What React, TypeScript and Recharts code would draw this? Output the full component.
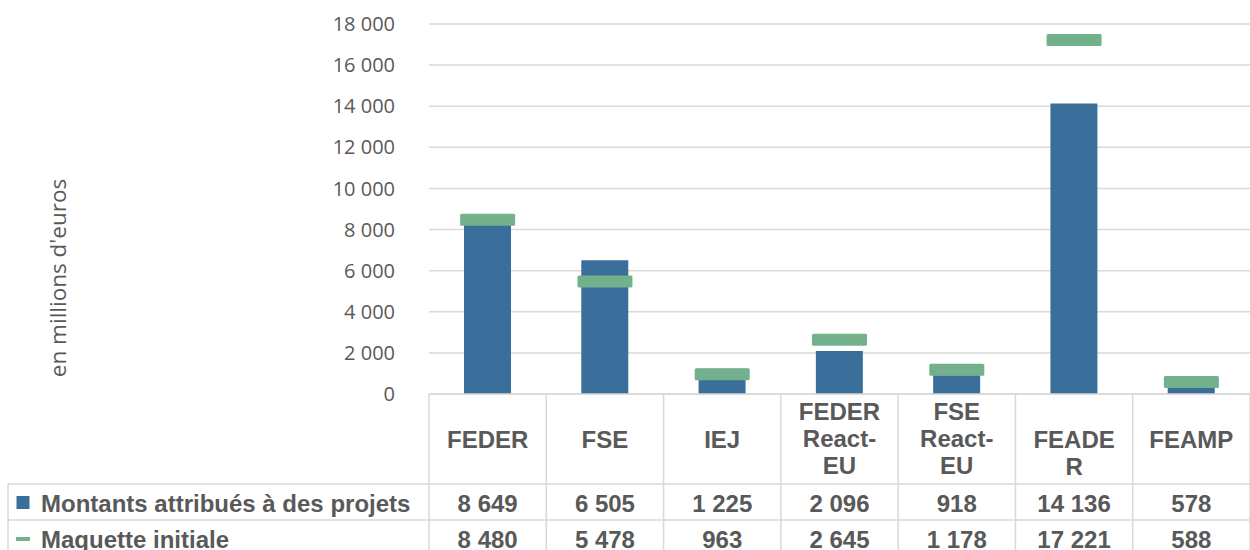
import { Bar, CartesianGrid, ComposedChart, Customized, Line, XAxis, YAxis } from 'recharts';

const CATEGORIES = ['FEDER', 'FSE', 'IEJ', 'FEDER React-EU', 'FSE React-EU', 'FEADER', 'FEAMP'];
// how the header cells wrap in the table under the axis
const HEADER_LINES = [['FEDER'], ['FSE'], ['IEJ'], ['FEDER', 'React-', 'EU'], ['FSE', 'React-', 'EU'], ['FEADE', 'R'], ['FEAMP']];
const MONTANTS = [8649, 6505, 1225, 2096, 918, 14136, 578];
const MAQUETTE = [8480, 5478, 963, 2645, 1178, 17221, 588];
const Y_TICKS = [0, 2000, 4000, 6000, 8000, 10000, 12000, 14000, 16000, 18000];
const SERIES = ['Montants attribués à des projets', 'Maquette initiale'];
const Y_TITLE = "en millions d'euros";

const data = CATEGORIES.map((c, i) => ({ cat: c, montants: MONTANTS[i], maquette: MAQUETTE[i] }));

const W = 1250;
const H = 550;
const PLOT_LEFT = 429;
const PLOT_TOP = 24;
const AXIS_Y = 394;
const BAND = (W - PLOT_LEFT) / CATEGORIES.length;
const ROW1 = 484;
const ROW2 = 520;

const BLUE = '#3A6F9C';
const GREEN = '#72B18B';
const LINE = '#d9d9d9';
const TEXT = '#595959';
const TABLE_FONT = { fontFamily: '"Liberation Sans", Arial, sans-serif', fontWeight: 700, fontSize: 24, fill: TEXT };

const fmt = (n: number) => String(n).replace(/\B(?=(\d{3})+(?!\d))/g, ' ');

function TableTick({ x, index }: any) {
  const lines = HEADER_LINES[index];
  const first = lines.length === 3 ? 411 : 439;
  const left = x - BAND / 2;
  return (
    <g>
      <line x1={left} x2={left} y1={AXIS_Y} y2={H} stroke={LINE} strokeWidth={1.5} />
      {index === CATEGORIES.length - 1 && (
        <line x1={left + BAND} x2={left + BAND} y1={AXIS_Y} y2={H} stroke={LINE} strokeWidth={1.5} />
      )}
      {lines.map((l, i) => (
        <text key={i} x={x} y={first + i * 27} textAnchor="middle" dominantBaseline="central" {...TABLE_FONT}>{l}</text>
      ))}
      <text x={x} y={503} textAnchor="middle" dominantBaseline="central" {...TABLE_FONT}>{fmt(MONTANTS[index])}</text>
      <text x={x} y={539} textAnchor="middle" dominantBaseline="central" {...TABLE_FONT}>{fmt(MAQUETTE[index])}</text>
    </g>
  );
}

function Extras() {
  return (
    <g>
      <text
        x={57} y={278} transform="rotate(-90 57 278)" textAnchor="middle" dominantBaseline="central"
        fontFamily='"Open Sans", sans-serif' fontSize={22.5} fill={TEXT}
      >
        {Y_TITLE}
      </text>
      <line x1={8} x2={W} y1={ROW1} y2={ROW1} stroke={LINE} strokeWidth={1.5} />
      <line x1={8} x2={W} y1={ROW2} y2={ROW2} stroke={LINE} strokeWidth={1.5} />
      <line x1={8} x2={8} y1={ROW1} y2={H} stroke={LINE} strokeWidth={1.5} />
      <rect x={16.5} y={496} width={13} height={13} fill={BLUE} />
      <text x={41} y={503} dominantBaseline="central" {...TABLE_FONT}>{SERIES[0]}</text>
      <rect x={16} y={537} width={14} height={4} fill={GREEN} />
      <text x={41} y={539} dominantBaseline="central" {...TABLE_FONT}>{SERIES[1]}</text>
    </g>
  );
}

function Marker(p: any) {
  return <rect key={p.index} x={p.cx - 27.5} y={p.cy - 6} width={55} height={12} rx={1.5} fill={GREEN} />;
}

export default function App() {
  return (
    <div style={{ position: 'fixed', left: 0, top: 0, width: W, height: H, background: '#fff' }}>
      <ComposedChart width={W} height={H} data={data} margin={{ top: PLOT_TOP, right: 0, bottom: 0, left: 0 }}>
        <CartesianGrid vertical={false} stroke={LINE} strokeWidth={1.5} />
        <XAxis
          dataKey="cat" interval={0} height={H - AXIS_Y} tickLine={false}
          axisLine={{ stroke: LINE, strokeWidth: 1.5 }} tick={<TableTick />}
        />
        <YAxis
          domain={[0, 18000]} ticks={Y_TICKS} width={PLOT_LEFT} axisLine={false} tickLine={false}
          tickSize={0} tickMargin={34} tickFormatter={fmt}
          tick={{ fontFamily: '"Open Sans", sans-serif', fontSize: 20, fill: TEXT }}
        />
        <Bar dataKey="montants" name={SERIES[0]} fill={BLUE} barSize={47} isAnimationActive={false} />
        <Line
          dataKey="maquette" name={SERIES[1]} stroke="none" dot={Marker} activeDot={false}
          isAnimationActive={false}
        />
        <Customized component={Extras} />
      </ComposedChart>
    </div>
  );
}
